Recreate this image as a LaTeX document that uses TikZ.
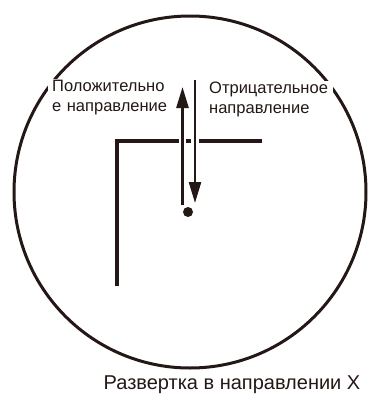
\documentclass[tikz,border=0pt]{standalone}
\usepackage{fontspec}
\setmainfont{Liberation Sans}
\usetikzlibrary{arrows.meta}
\definecolor{tinta}{HTML}{231815}
\begin{document}
\begin{tikzpicture}[x=1pt,y=-1pt,every node/.style={font=\fontsize{16.5}{20}\selectfont,text=tinta,inner sep=1pt},
  rotulo/.style={fill=white,align=left,anchor=north west,text width=120pt,inner xsep=4pt},
  flecha/.style={draw=tinta,line width=2.5pt,-{Triangle[length=21pt,width=12pt]},preaction={draw=white,line width=7.5pt,-}}]
\useasboundingbox (0,0) rectangle (368,408);
\draw[tinta,line width=3pt] (190,192) circle[radius=176];
\draw[tinta,line width=4pt] (117,286)--(117,141)--(262,141);
\node[rotulo] (pos) at (48,79) {Положительно\\е направление};
\node[rotulo] (neg) at (205,81) {Отрицательное\\направление};
\coordinate (pa) at (182.5,205);\coordinate (pb) at (182.5,87);
\coordinate (na) at (195,80);\coordinate (nb) at (195,203);
\draw[flecha] (pa)--(pb);\draw[flecha] (na)--(nb);
\fill[tinta] (188,212) circle[radius=5];
\node (cap) at (232,385) {\fontsize{20}{24}\selectfont Развертка в направлении X};
\end{tikzpicture}
\end{document}
